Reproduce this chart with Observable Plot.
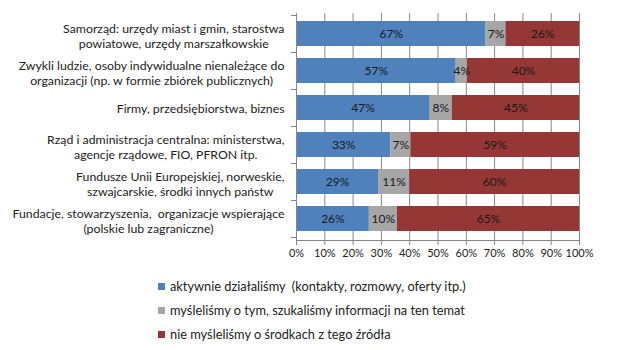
<!DOCTYPE html>
<html><head><meta charset="utf-8">
<script src="https://cdn.jsdelivr.net/npm/d3@7"></script>
<script src="https://cdn.jsdelivr.net/npm/@observablehq/plot@0.6"></script>
<style>
body{margin:0;background:#fff;font-family:Lato, sans-serif;}
#wrap{position:relative;width:630px;height:350px;overflow:hidden;}
#wrap svg{display:block;}
.leg{position:absolute;left:158px;font-size:12.8px;color:#222;display:flex;align-items:center;height:14px;white-space:pre;font-family:Lato, sans-serif;}
.sw{width:7px;height:7px;margin-right:5px;flex:none;}
</style></head><body><div id="wrap"></div>
<script>
const categories = [
  "Samorząd: urzędy miast i gmin, starostwa\npowiatowe, urzędy marszałkowskie",
  "Zwykli ludzie, osoby indywidualne nienależące do\norganizacji (np. w formie zbiórek publicznych)",
  "Firmy, przedsiębiorstwa, biznes",
  "Rząd i administracja centralna: ministerstwa,\nagencje rządowe, FIO, PFRON itp.",
  "Fundusze Unii Europejskiej, norweskie,\nszwajcarskie, środki innych państw",
  "Fundacje, stowarzyszenia,  organizacje wspierające\n(polskie lub zagraniczne)"
];
const active = [67, 57, 47, 33, 29, 26];
const thought = [7, 4, 8, 7, 11, 10];
const notThought = [26, 40, 45, 59, 60, 65];
const seriesNames = [
  "aktywnie działaliśmy  (kontakty, rozmowy, oferty itp.)",
  "myśleliśmy o tym, szukaliśmy informacji na ten temat",
  "nie myśleliśmy o środkach z tego źródła"
];
const colors = ["#4F81BD", "#A6A6A6", "#953735"];
const xTicks = [0, 10, 20, 30, 40, 50, 60, 70, 80, 90, 100];

const seriesValues = [active, thought, notThought];
const data = [];
categories.forEach((c, i) => seriesValues.forEach((vals, s) => data.push({cat: c, series: seriesNames[s], value: vals[i]})));

const labelSize = 12.3;
const ctx = document.createElement("canvas").getContext("2d");
ctx.font = `${labelSize}px Lato`;
const labelMarks = categories.map(c => {
  const w = Math.max(...c.split("\n").map(l => ctx.measureText(l).width));
  const two = c.includes("\n");
  return Plot.text([c], {y: d => d, text: d => d, frameAnchor: "left", textAnchor: "middle",
    dx: -12 - w / 2, dy: two ? 2 : 0, lineHeight: 1.22, fontSize: labelSize, fill: "#222"});
});

function axisLines(index, scales, values, dims) {
  const {width, height, marginLeft: ml, marginRight: mr, marginTop: mt, marginBottom: mb} = dims;
  const y = scales.y;
  const step = y.step(), bw = y.bandwidth();
  const g = d3.create("svg:g").attr("stroke", "#868686").attr("fill", "none").attr("shape-rendering", "crispEdges");
  g.append("line").attr("x1", ml).attr("x2", ml).attr("y1", mt).attr("y2", height - mb);
  g.append("line").attr("x1", ml).attr("x2", width - mr).attr("y1", height - mb).attr("y2", height - mb);
  const bounds = [y(categories[0]) + bw / 2 - step / 2, ...categories.map(c => y(c) + bw / 2 + step / 2)];
  for (const b of bounds) g.append("line").attr("x1", ml - 5).attr("x2", ml).attr("y1", b).attr("y2", b);
  return g.node();
}

const chart = Plot.plot({
  width: 630, height: 270,
  marginLeft: 296, marginRight: 51, marginTop: 13, marginBottom: 30,
  style: {fontFamily: "Lato, sans-serif", background: "#fff"},
  x: {domain: [0, 1]},
  y: {domain: categories, paddingInner: 0.32, paddingOuter: 0.16, axis: null},
  color: {domain: seriesNames, range: colors},
  marks: [
    Plot.gridX({ticks: xTicks.map(d => d / 100), stroke: "#868686", strokeOpacity: 1}),
    Plot.barX(data, Plot.stackX({x: "value", y: "cat", fill: "series", offset: "normalize"})),
    Plot.text(data, Plot.stackX({x: "value", y: "cat", z: "series", offset: "normalize",
      text: d => d.value + "%", fill: "#1a1a1a", fontSize: 12})),
    Plot.axisX({ticks: xTicks.map(d => d / 100), tickFormat: d => Math.round(d * 100) + "%",
      tickSize: 5, tickPadding: 4, stroke: "#868686", fill: "#222", fontSize: 11, label: null}),
    axisLines,
    ...labelMarks
  ]
});
const wrap = document.getElementById("wrap");
wrap.appendChild(chart);
const legendTops = [279, 303, 327];
seriesNames.forEach((n, i) => {
  const d = document.createElement("div");
  d.className = "leg";
  d.style.top = legendTops[i] + "px";
  d.innerHTML = `<span class="sw" style="background:${colors[i]}"></span><span></span>`;
  d.lastChild.textContent = n;
  wrap.appendChild(d);
});
</script></body></html>
